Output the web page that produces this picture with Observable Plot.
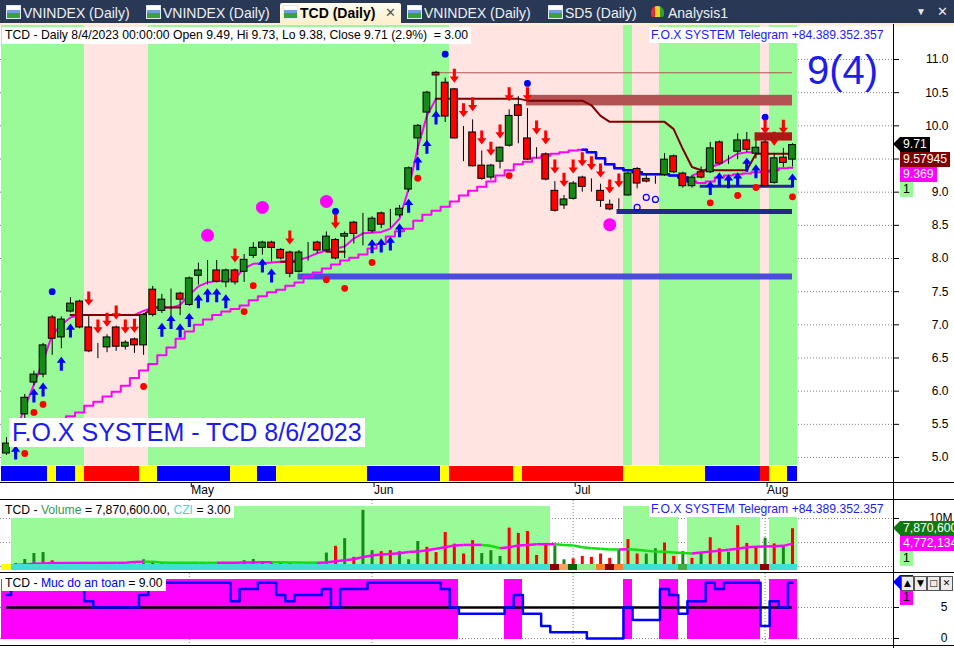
<!DOCTYPE html>
<html><head><meta charset="utf-8">
<script src="https://cdn.jsdelivr.net/npm/d3@7"></script>
<script src="https://cdn.jsdelivr.net/npm/@observablehq/plot@0.6"></script>
<style>
html,body{margin:0;padding:0;background:#fff;}
#root{position:relative;width:954px;height:648px;overflow:hidden;font-family:"Liberation Sans",Arial,sans-serif;background:#fff;}
#root svg{display:block;}
.lay{position:absolute;}
</style></head>
<body><div id="root"></div>
<script>
// ================= DATA =================
const symbol = "TCD";
const lastDate = "8/4/2023";
const monthTicks = [20, 40, 62, 83];
const monthLabels = ["May", "Jun", "Jul", "Aug"];
const priceTicks = [5, 5.5, 6, 6.5, 7, 7.5, 8, 8.5, 9, 9.5, 10, 10.5, 11];

const open = [5.06,5.22,5.65,6.13,6.25,7.11,6.81,7.20,7.35,6.96, 6.64,6.66,6.96,6.67,6.78,6.69,7.53,7.21,7.26,7.47, 7.30,7.74,7.82,7.82,7.64,7.82,7.80,8.04,8.16,8.24, 8.13,8.09,7.80,8.09,8.24,8.12,8.28,8.33,8.54,8.38, 8.41,8.68,8.53,8.65,9.04,9.81,10.20,10.80,10.65,10.55, 9.79,9.90,9.40,9.22,9.46,9.70,10.31,9.81,9.58,9.57, 9.02,8.80,8.90,9.22,9.10,9.02,8.81,8.83,8.95,9.35, 9.20,9.17,9.26,9.54,9.28,9.09,9.30,9.30,9.75,9.49, 9.61,9.78,9.58,9.75,9.14,9.52,9.49];
const high = [5.30,5.55,5.95,6.30,6.72,7.14,7.12,7.41,7.37,7.14, 6.72,6.85,6.98,6.76,6.80,7.17,7.58,7.46,7.54,7.49, 7.72,7.93,7.97,7.97,7.84,7.84,8.06,8.24,8.26,8.26, 8.15,8.11,8.12,8.24,8.26,8.40,8.30,8.40,8.56,8.68, 8.63,8.70,8.74,8.80,9.38,10.02,10.52,10.82,10.72,10.56, 9.99,10.09,9.62,9.42,9.68,10.24,10.44,10.26,9.67,9.59, 9.16,8.95,9.16,9.24,9.20,9.12,8.88,8.90,9.30,9.37, 9.27,9.24,9.58,9.56,9.30,9.24,9.38,9.75,9.77,9.55, 9.88,9.90,9.88,9.78,9.58,9.66,9.73];
const low = [5.03,5.18,5.55,6.08,6.20,6.54,6.64,7.18,6.94,6.58, 6.49,6.58,6.60,6.62,6.57,6.54,7.12,7.17,7.12,7.14, 7.28,7.60,7.60,7.63,7.56,7.60,7.64,8.00,8.05,7.95, 7.98,7.71,7.78,7.96,8.07,8.10,7.98,8.00,8.22,8.19, 8.38,8.45,8.46,8.62,9.00,9.55,9.58,10.19,10.05,9.80, 9.46,9.38,9.18,9.18,9.35,9.68,9.73,9.48,9.50,9.17, 8.70,8.74,8.88,9.00,9.00,8.77,8.72,8.74,8.94,9.05, 9.14,9.12,9.24,9.28,9.06,9.06,9.20,9.28,9.40,9.42, 9.49,9.60,9.50,9.09,9.12,9.37,9.38];
const close = [5.21,5.50,5.90,6.25,6.69,6.79,7.08,7.32,6.96,6.60, 6.64,6.81,6.67,6.73,6.69,7.15,7.15,7.38,7.26,7.38, 7.70,7.82,7.82,7.65,7.82,7.64,7.98,8.16,8.24,8.16, 8.00,7.77,8.09,8.09,8.12,8.33,8.00,8.37,8.37,8.38, 8.60,8.51,8.53,8.75,9.36,10.00,10.50,10.76,10.14,9.81, 9.79,9.39,9.20,9.40,9.67,10.15,10.15,9.49,9.58,9.19, 8.72,8.89,9.13,9.08,9.10,8.87,8.74,8.83,9.28,9.13, 9.16,9.17,9.49,9.30,9.09,9.22,9.22,9.66,9.43,9.49, 9.78,9.64,9.67,9.09,9.51,9.44,9.71];

// slow (stepped) average, fast trailing line, dark-red stop line
const slowLine = [null,null,null,5.45,5.50,5.54,5.58, 5.62,5.68,5.78,5.84,5.92,5.99,6.08,6.20,6.31,6.41,6.54,6.66,6.79,6.90,7.00,7.08,7.15,7.20,7.24,7.29,7.37,7.43,7.49,7.53,7.59,7.64,7.73,7.79,7.85,7.91,7.97,8.01,8.06,8.15,8.22,8.33,8.41,8.45,8.57,8.66,8.72,8.78,8.86,8.95,9.02,9.08,9.16,9.25,9.33,9.42,9.46,9.52,9.55,9.58,9.60,9.63,9.64,9.60,9.51,9.42,9.36,9.33,9.30,9.27,9.27,9.27,9.25,9.22,9.16,9.14,9.16,9.22,9.25,9.27,9.28,9.30,9.31,9.33,9.36,9.369];
const slowBlueRange = [63, 75];
const fastLine = [5.10,5.40,5.75,6.10,6.45,6.85,7.00,7.11,7.15,7.15, 7.15,7.15,7.15,7.15,7.15,7.21,7.26,7.26,7.26,7.30, 7.45,7.58,7.64,7.66,7.67,7.70,7.85,7.92,7.93,7.94, 7.95,7.96,7.98,8.02,8.08,8.12,8.15,8.18,8.30,8.38, 8.39,8.40,8.45,8.60,9.05,9.67,10.15,10.41,null,null, null,null,null,null,null,null,null,null,null,null, null,null,null,null,null,null,null,null,null,null, null,null,null,null,null,9.25,9.30,9.38,9.42,9.50, 9.58,9.60,9.60,null,null,null,null];
const stopLine = [null,null,null,null,null,null,null, 7.15,7.15,7.15,7.15,7.15,7.15,7.15,7.15,7.15, 7.26,7.26,7.26,7.26, null,null,null,null,null,null,null,null,null,null, 7.95,7.95,7.95, null,null, 8.10,8.10,8.10, null,null,null,null,null,null,null,null,null, 10.41,10.41,10.41,10.41,10.41,10.41,10.41,10.41,10.41,10.41, 10.38,10.38,10.38,10.38,10.38,10.38,10.38, 10.31,10.15, 10.06,10.06,10.06,10.06,10.06,10.06,10.06, 9.95,9.65,9.38, 9.33,9.33,9.33,9.33,9.33,9.33, 9.57945,9.57945,9.57945,9.57945,9.57945];

// background zones [from, to, code]
const priceZones = [[0,8,"G"],[9,15,"P"],[16,48,"G"],[49,67,"P"],[68,68,"G"],[69,71,"P"],[72,82,"G"],[83,83,"P"],[84,86,"G"]];
const stripRuns = [[0,4,"B"],[5,5,"Y"],[6,7,"B"],[8,8,"Y"],[9,14,"R"],[15,16,"Y"],[17,24,"B"],[25,27,"Y"],[28,29,"B"],[30,39,"Y"],[40,47,"B"],[48,48,"Y"],[49,55,"R"],[56,56,"Y"],[57,67,"R"],[68,76,"Y"],[77,82,"B"],[83,83,"R"],[84,85,"Y"],[86,86,"B"]];

// horizontal levels
const levelBands = [
  {from: 56.9, to: 86, lo: 10.30, hi: 10.46, color: "#b25252"}
];
const levelBoxes = [
  {from: 81.9, to: 86, lo: 9.77, hi: 9.895, color: "#b31616"}
];
const levelLines = [
  {from: 47.4, to: 86, y: 10.80, color: "#b25252", w: 1},
  {from: 31.9, to: 86, y: 7.73, color: "#4b4bdc", w: 6},
  {from: 66.8, to: 86, y: 8.71, color: "#202a88", w: 5},
  {from: 75.9, to: 86, y: 9.09, color: "#202a88", w: 3}
];

// signal markers [barIndex, price]
const downArrows = [[9,7.29],[10,6.87],[11,6.97],[12,7.08],[13,6.87],[14,6.88],[25,7.94],[31,8.21],[36,8.45],[49,10.65],[50,10.13],[51,10.22],[52,9.72],[53,9.55],[54,9.81],[55,10.37],[57,10.37],[58,9.87],[59,9.72],[60,9.28],[61,9.08],[62,9.28],[63,9.39],[64,9.33],[65,9.22],[66,8.98],[67,9.07],[83,9.88],[84,9.70],[85,9.88]];
const upArrows = [[1,5.18],[3,6.04],[4,6.13],[6,6.52],[7,7.02],[17,7.03],[18,7.15],[19,7.02],[20,7.18],[21,7.46],[22,7.55],[23,7.55],[24,7.46],[28,8.0],[29,7.85],[40,8.29],[41,8.30],[42,8.33],[43,8.53],[44,8.90],[45,9.54],[46,9.79],[47,10.23],[77,9.17],[78,9.30],[79,9.27],[80,9.30],[81,9.52],[82,9.42],[86,9.28]];
const redDots = [[2,5.06],[3,5.68],[4,5.80],[15,6.07],[26,7.20],[27,7.59],[35,7.68],[37,7.55],[40,7.94],[45,9.21],[55,9.25],[77,8.84],[80,8.95],[82,9.07],[86,8.93]];
const blueDots = [[5,7.50],[36,8.71],[48,11.08],[57,10.64],[83,10.13]];
const magentaCircles = [[22,8.35],[28,8.77],[35,8.86],[66,8.51]];
const hollowCircles = [[69,8.77],[70,8.92],[71,8.89]];

// volume (millions), direction, moving average
const volume = [0.2,0.63,1.46,2.7,2.9,1.18,0.7,0.7,0.7,0.7, 0.5,0.5,0.28,0.28,0.5,1.4,1.04,0.7,0.7,0.7, 0.7,0.5,0.5,0.28,0.7,0.7,1.2,1.46,1.04,0.9, 0.7,0.7,0.5,0.5,0.7,2.8,4.2,5.8,1.9,11.7, 3.3,3.1,3.3,3.1,1.4,5.2,4.0,2.9,7.1,4.65, 2.6,5.4,2.7,3.3,2.1,8.0,6.9,7.3,2.3,4.8, 4.3,1.4,1.6,2.1,1.9,2.6,1.7,3.5,5.6,2.6, 2.6,3.7,4.9,2.1,3.1,1.7,2.8,6.0,3.7,3.0, 8.5,4.8,4.0,5.9,4.7,4.2,7.8706];
const volumeDir = "gggggrrgrrggrgrgrgrrggrrgrgggrrrgrrgrgrggrrgggrrrrrrgggrrrrrggrrrrrgrrggrrgrgrrgrrrgrg".split("");
const volumeMA = [0.15,0.3,0.4,0.55,0.65,0.72,0.72,0.73,0.74,0.74, 0.75,0.75,0.76,0.76,0.95,1.0,0.98,0.85,0.8,0.78, 0.78,0.77,0.77,0.77,0.78,0.8,0.82,0.84,0.86,0.88, 0.86,0.84,0.82,0.8,0.8,0.85,1.1,1.3,1.5,2.0, 2.3,2.5,2.6,2.75,3.0,3.1,3.4,3.7,4.0,4.4, 4.5,4.5,4.5,4.3,3.8,4.0,4.4,4.5,4.65,4.65, 4.65,4.5,4.4,4.0,3.8,3.7,3.55,3.55,3.6,3.5, 3.3,3.1,3.05,2.9,2.8,2.7,2.9,3.1,3.3,3.5, 3.7,4.0,4.1,4.2,4.2,4.3,4.772134];
const volZones = [[1,59,"hi"],[68,73,"hi"],[75,82,"lo"],[84,86,"lo"]];
const cziCells = "Y" + "C".repeat(59) + "dsDllodo" + "C".repeat(6) + "g" + "C".repeat(8) + "d" + "CCC";
const cziValue = 3.00;

// "Muc do an toan" (safety level 0-9)
const safety = [7,9,9,9,9,9,9,9,9,6, 5,5,5,5,5,7,9,9,9,9, 9,9,9,9,9,6,8,8,9,9, 7,6,7,7,7,8,5,8,8,8, 9,9,9,9,9,9,9,9,8,5, 4,4,4,4,4,5,7,4,4,2, 1,1,1,1,0,0,0,0,5,3, 3,3,8,7,4,6,6,9,8,9, 9,9,9,2,6,5,9];
const safetyThreshold = 5;

// ================= RENDER =================
const FONT = '"Liberation Sans", Arial, sans-serif';
const root = document.getElementById("root");
const N = close.length;
const idx = d3.range(N);
const X = {type: "linear", domain: [0, N - 1], range: [6, 792]};
const baseStyle = {background: "transparent", overflow: "visible", fontFamily: FONT, fontSize: "12px", color: "black"};
const GREEN_BG = "#98fb98", PINK_BG = "#ffe4e1";
const zoneColor = {G: GREEN_BG, P: PINK_BG};
const stripColor = {B: "#0000ff", Y: "#ffff00", R: "#ff0000"};
const cziColor = {C: "#40e0d0", Y: "#ffff00", d: "#8b0000", s: "#f4a460", D: "#006400", l: "#90ee90", o: "#ff7f27", g: "#3cb043"};
const UP = "#168a16", DOWN = "#ff0000";
const dotted = {stroke: "#808080", strokeOpacity: 1, strokeDasharray: "1,2"};

function el(tag, css, html) {
  const e = document.createElement(tag);
  e.style.cssText = css;
  if (html !== undefined) e.innerHTML = html;
  root.appendChild(e);
  return e;
}
function layer(svg, top) {
  const d = el("div", `position:absolute;left:0;top:${top}px;width:954px;`);
  d.appendChild(svg);
  return d;
}
function arrowSymbol(dir) {
  return {
    draw(ctx, size) {
      const r = Math.sqrt(size / Math.PI);
      const s = dir === "up" ? 1 : -1;
      const hw = 0.66 * r, sw = 0.22 * r, hb = -0.12 * r;
      ctx.moveTo(0, -r * s);
      ctx.lineTo(hw, hb * s);
      ctx.lineTo(sw, hb * s);
      ctx.lineTo(sw, r * s);
      ctx.lineTo(-sw, r * s);
      ctx.lineTo(-sw, hb * s);
      ctx.lineTo(-hw, hb * s);
      ctx.closePath();
    }
  };
}
function scaleFn(plot, name) {
  const s = plot.scale(name);
  return s.apply ? (v) => s.apply(v) : d3.scaleLinear(s.domain, s.range);
}

// ---------- tab bar ----------
el("div", "position:absolute;left:0;top:0;width:954px;height:24px;background:#293955;");
el("div", "position:absolute;left:0;top:23px;width:954px;height:3px;background:#fdf2d4;");
const tabs = [
  {text: "VNINDEX (Daily)", x: 3, w: 138},
  {text: "VNINDEX (Daily)", x: 143, w: 136},
  {text: "TCD (Daily)", x: 280, w: 121, active: true},
  {text: "VNINDEX (Daily)", x: 404, w: 138},
  {text: "SD5 (Daily)", x: 545, w: 102},
  {text: "Analysis1", x: 648, w: 86, analysis: true}
];
for (const t of tabs) {
  if (t.active) el("div", `position:absolute;left:${t.x}px;top:3px;width:${t.w}px;height:21px;background:linear-gradient(#fffcf2,#fdf0c8);border-radius:2px 2px 0 0;`);
  const icon = t.analysis
    ? `position:absolute;left:${t.x + 3}px;top:6px;width:13px;height:11px;background:linear-gradient(90deg,#e03030 0 33%,#f0d020 33% 66%,#30a030 66%);border-radius:6px 6px 2px 2px;`
    : `position:absolute;left:${t.x + 3}px;top:5px;width:13px;height:12px;border:1px solid #dfe8f4;background:linear-gradient(#ffffff 0 35%,#6fa0d8 35% 60%,#3f9f3f 60%);`;
  el("div", icon);
  el("div", `position:absolute;left:${t.x + 20}px;top:4px;height:18px;line-height:18px;font-size:14px;white-space:pre;color:${t.active ? "#000" : "#eef0f4"};font-weight:${t.active ? "bold" : "normal"};`, t.text);
  if (t.active) el("div", `position:absolute;left:${t.x + 105}px;top:4px;font-size:13px;line-height:18px;color:#555;`, "✕");
}
el("div", "position:absolute;left:916px;top:5px;font-size:10px;line-height:14px;color:#e8e8e8;", "▼");
el("div", "position:absolute;left:937px;top:4px;font-size:13px;line-height:16px;color:#e8e8e8;", "✕");

// ---------- price pane ----------
const bars = idx.map(i => ({i, o: open[i], h: high[i], l: low[i], c: close[i]}));
const pricePlot = Plot.plot({
  width: 954, height: 440,
  marginTop: 0, marginBottom: 0, marginLeft: 0, marginRight: 61,
  x: {...X, axis: null},
  y: {domain: [5, 11], range: [432, 34], label: null},
  style: baseStyle,
  marks: [
    Plot.gridY(priceTicks, dotted),
    Plot.rect(priceZones, {x1: d => d[0] - 0.5, x2: d => d[1] + 0.5, fill: d => zoneColor[d[2]], shapeRendering: "crispEdges"}),
    ...levelLines.filter(l => l.w > 2).map(l => Plot.ruleY([l], {y: "y", x1: "from", x2: "to", stroke: l.color, strokeWidth: l.w})),
    Plot.ruleY(levelLines.filter(l => l.w <= 2), {y: "y", x1: "from", x2: "to", stroke: "#b25252", strokeWidth: 1}),
    Plot.rect(levelBands, {x1: "from", x2: "to", y1: "lo", y2: "hi", fill: d => d.color}),
    Plot.line(idx, {x: i => i, y: i => slowLine[i], stroke: "#ff00ff", strokeWidth: 2, curve: "step"}),
    Plot.line(idx.filter(i => i >= slowBlueRange[0] && i <= slowBlueRange[1]), {x: i => i, y: i => slowLine[i], stroke: "#0000ff", strokeWidth: 2.5, curve: "step"}),
    Plot.line(idx, {x: i => i, y: i => fastLine[i], stroke: "#ff00ff", strokeWidth: 2}),
    Plot.line(idx, {x: i => i, y: i => stopLine[i], stroke: "#800000", strokeWidth: 2}),
    Plot.ruleX(bars, {x: "i", y1: "l", y2: "h", stroke: "black", strokeWidth: 1}),
    Plot.rect(bars, {x1: d => d.i - 0.37, x2: d => d.i + 0.37, y1: "o", y2: "c", fill: d => d.c > d.o ? UP : d.c < d.o ? DOWN : "black", stroke: "black", strokeWidth: 1}),
    Plot.dot(redDots, {x: d => d[0], y: d => d[1], r: 3.4, fill: "#ff0000", stroke: "none"}),
    Plot.dot(blueDots, {x: d => d[0], y: d => d[1], r: 3.4, fill: "#0000ff", stroke: "none"}),
    Plot.dot(magentaCircles, {x: d => d[0], y: d => d[1], r: 6.5, fill: "#ff00ff", stroke: "none"}),
    Plot.dot(hollowCircles, {x: d => d[0], y: d => d[1], r: 3, fill: "none", stroke: "#0000ff", strokeWidth: 1.2}),
    Plot.dot(downArrows, {x: d => d[0], y: d => d[1], r: 7, dy: -7, symbol: arrowSymbol("down"), fill: "#ff0000", stroke: "none"}),
    Plot.dot(upArrows, {x: d => d[0], y: d => d[1], r: 7, dy: 7, symbol: arrowSymbol("up"), fill: "#0000ff", stroke: "none"}),
    Plot.rect(levelBoxes, {x1: "from", x2: "to", y1: "lo", y2: "hi", fill: d => d.color}),
    Plot.axisY(priceTicks, {anchor: "right", tickSize: 5, tickPadding: 50, textAnchor: "end", tickFormat: d3.format(".1f"), fontSize: 12, label: null})
  ]
});
layer(pricePlot, 25);

// ---------- colour strip + date axis ----------
const stripPlot = Plot.plot({
  width: 954, height: 35,
  marginTop: 0, marginBottom: 18, marginLeft: 0, marginRight: 61,
  x: X,
  style: baseStyle,
  marks: [
    Plot.rect(stripRuns, {x1: d => d[0] - 0.5, x2: d => d[1] + 0.5, fill: d => stripColor[d[2]], shapeRendering: "crispEdges", insetTop: 1, insetBottom: 1}),
    Plot.axisX(monthTicks, {anchor: "bottom", tickSize: 5, tickPadding: -2, textAnchor: "start", dx: 2, fontSize: 12, tickFormat: d => monthLabels[monthTicks.indexOf(d)], label: null})
  ]
});
layer(stripPlot, 465);

// ---------- volume pane ----------
const maColor = [];
idx.forEach(i => {
  if (i === 0) maColor.push("#ff00ff");
  else if (volumeMA[i] > volumeMA[i - 1]) maColor.push("#ff00ff");
  else if (volumeMA[i] < volumeMA[i - 1]) maColor.push("#10e010");
  else maColor.push(maColor[i - 1]);
});
const volPlot = Plot.plot({
  width: 954, height: 72,
  marginTop: 0, marginBottom: 0, marginLeft: 0, marginRight: 61,
  x: {...X, axis: null},
  y: {domain: [0, 10], range: [66, 18], label: null},
  style: baseStyle,
  marks: [
    Plot.gridY([0, 5, 10], dotted),
    Plot.gridX(monthTicks, dotted),
    Plot.rect(volZones.filter(z => z[2] === "hi"), {x1: d => d[0] - 0.5, x2: d => d[1] + 0.5, fill: GREEN_BG, insetTop: 6, insetBottom: 4, shapeRendering: "crispEdges"}),
    Plot.rect(volZones.filter(z => z[2] === "lo"), {x1: d => d[0] - 0.5, x2: d => d[1] + 0.5, fill: GREEN_BG, insetTop: 16, insetBottom: 4, shapeRendering: "crispEdges"}),
    Plot.ruleX(idx, {x: i => i, y1: 0, y2: i => volume[i], stroke: i => volumeDir[i] === "g" ? UP : DOWN, strokeWidth: 3}),
    Plot.link(idx.slice(1), {x1: i => i - 1, y1: i => volumeMA[i - 1], x2: i => i, y2: i => volumeMA[i], stroke: i => maColor[i], strokeWidth: 2.5}),
    Plot.axisY([10], {anchor: "right", tickSize: 5, tickPadding: 54, textAnchor: "end", tickFormat: d => d + "M", fontSize: 12, label: null})
  ]
});
layer(volPlot, 500);

const cziPlot = Plot.plot({
  width: 954, height: 6, margin: 0, marginRight: 61,
  x: {...X, axis: null},
  style: baseStyle,
  marks: [Plot.rect(idx, {x1: i => i - 0.5, x2: i => i + 0.5, fill: i => cziColor[cziCells[i]], shapeRendering: "crispEdges"})]
});
layer(cziPlot, 564);

// ---------- safety pane ----------
const safeData = idx.map(i => ({i, v: safety[i]}));
const safePlot = Plot.plot({
  width: 954, height: 72,
  marginTop: 0, marginBottom: 0, marginLeft: 0, marginRight: 61,
  x: {...X, axis: null},
  y: {domain: [0, 5], range: [65, 34], label: null},
  style: baseStyle,
  marks: [
    Plot.gridY([0, 5], dotted),
    Plot.gridX(monthTicks, dotted),
    Plot.rect(safeData.filter(d => d.v >= safetyThreshold), {x1: d => d.i - 0.5, x2: d => d.i + 0.5, fill: "#ff00ff", insetTop: 6, insetBottom: 6, shapeRendering: "crispEdges"}),
    Plot.ruleY([safetyThreshold], {x1: 0, x2: N - 1, stroke: "black", strokeWidth: 2.5}),
    Plot.line(safeData, {x: "i", y: "v", stroke: "#0000ff", strokeWidth: 2.5, curve: "step"}),
    Plot.axisY([0, 5], {anchor: "right", tickSize: 5, tickPadding: 49, textAnchor: "end", fontSize: 12, label: null})
  ]
});
layer(safePlot, 573);

// ---------- separators & axis line ----------
for (const y of [482, 499, 572, 645]) el("div", `position:absolute;left:0;top:${y}px;width:954px;height:1px;background:#000;`);
el("div", "position:absolute;left:893px;top:24px;width:1px;height:624px;background:#000;");

// ---------- titles ----------
const pct = ((close[N - 1] / close[N - 2] - 1) * 100).toFixed(1);
el("div", `position:absolute;left:2px;top:27px;height:17px;line-height:17px;padding:0 3px;background:#fff;font-size:12.2px;white-space:pre;color:#000;`,
  `${symbol} - Daily ${lastDate} 00:00:00 Open ${open[N-1].toFixed(2)}, Hi ${high[N-1].toFixed(2)}, Lo ${low[N-1].toFixed(2)}, Close ${close[N-1].toFixed(2)} (${pct}%)  = ${cziValue.toFixed(2)}`);
el("div", "position:absolute;left:649px;top:27px;height:16px;line-height:16px;padding:0 2px;background:#fff;font-size:12.2px;white-space:pre;color:#1c1cf0;", "F.O.X SYSTEM Telegram +84.389.352.357");
el("div", "position:absolute;left:807px;top:50px;font-size:40px;line-height:40px;color:#1c1cf0;white-space:pre;", `${safety[N - 1]}(4)`);
el("div", "position:absolute;left:9px;top:418px;height:29px;line-height:29px;padding:0 3px;background:#fff;font-size:25px;white-space:pre;color:#1c1cf0;", "F.O.X SYSTEM - TCD 8/6/2023");

const fmtInt = d3.format(",");
el("div", "position:absolute;left:2px;top:502px;height:16px;line-height:16px;padding:0 3px;background:#fff;font-size:12.2px;white-space:pre;color:#000;",
  `${symbol} - <span style="color:#2e9b4e">Volume</span> = ${fmtInt(Math.round(volume[N-1]*1e6))}.00, <span style="color:#40d8d0">CZI</span> = ${cziValue.toFixed(2)}`);
el("div", "position:absolute;left:649px;top:501px;height:16px;line-height:16px;padding:0 2px;background:#fff;font-size:12.2px;white-space:pre;color:#1c1cf0;", "F.O.X SYSTEM Telegram +84.389.352.357");
el("div", "position:absolute;left:2px;top:575px;height:16px;line-height:16px;padding:0 3px;background:#fff;font-size:12.2px;white-space:pre;color:#000;",
  `${symbol} - <span style="color:#0000ff">Muc do an toan</span> = ${safety[N-1].toFixed(2)}`);

// ---------- value tags ----------
function tags(list, top, yf) {
  let prevBottom = -1e9;
  for (const t of list) {
    let y = t.value == null ? prevBottom + 7.5 : top + yf(t.value);
    let tt = Math.max(y - 7.5, prevBottom);
    if (t.arrow) el("div", `position:absolute;left:893px;top:${tt}px;width:0;height:0;border-top:7.5px solid transparent;border-bottom:7.5px solid transparent;border-right:7px solid ${t.bg};`);
    el("div", `position:absolute;left:900px;top:${tt}px;height:15px;line-height:15px;padding:0 3px;background:${t.bg};color:${t.color};font-size:12.2px;white-space:pre;`, t.text);
    prevBottom = tt + 15;
  }
}
const yPrice = scaleFn(pricePlot, "y");
tags([
  {value: close[N-1], text: close[N-1].toFixed(2), bg: "#000", color: "#fff", arrow: true},
  {value: stopLine[N-1], text: String(stopLine[N-1]), bg: "#800000", color: "#fff"},
  {value: slowLine[N-1], text: String(slowLine[N-1]), bg: "#ff00ff", color: "#fff"},
  {value: null, text: "1", bg: GREEN_BG, color: "#000"}
], 25, yPrice);
const yVol = scaleFn(volPlot, "y");
tags([
  {value: volume[N-1], text: fmtInt(Math.round(volume[N-1]*1e6)), bg: "#0f7a0f", color: "#fff", arrow: true},
  {value: volumeMA[N-1], text: fmtInt(Math.round(volumeMA[N-1]*1e6)), bg: "#ff00ff", color: "#fff"},
  {value: null, text: "1", bg: GREEN_BG, color: "#000"}
], 500, yVol);
const ySafe = scaleFn(safePlot, "y");
tags([
  {value: safety[N-1], text: String(safety[N-1]), bg: "#0000ff", color: "#fff", arrow: true},
  {value: null, text: "1", bg: "#ff00ff", color: "#000"}
], 573, ySafe);

// window buttons
["▲", "▼", "□", "✕"].forEach((g, k) => {
  el("div", `position:absolute;left:${901 + k * 13}px;top:576px;width:11px;height:13px;background:#ececec;border:1px solid #555;font-size:9px;line-height:13px;text-align:center;color:#000;font-family:'DejaVu Sans',sans-serif;`, g);
});
</script></body></html>
